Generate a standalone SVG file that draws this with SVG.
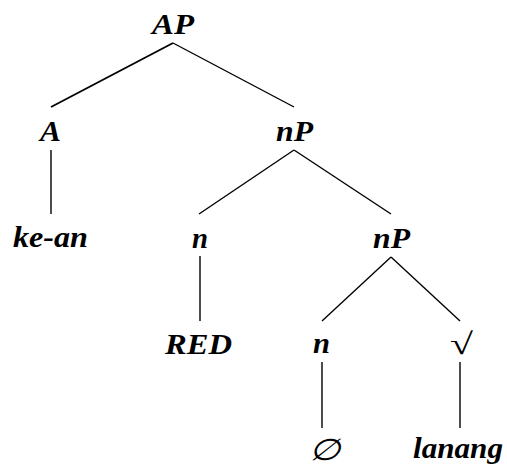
<svg xmlns="http://www.w3.org/2000/svg" width="507" height="467" viewBox="0 0 507 467">
<style>
.t{font-family:"Liberation Serif","Times New Roman",serif;font-weight:bold;font-style:italic;font-size:30px;fill:#000}
.s{font-family:"Liberation Serif","Times New Roman",serif;font-weight:normal;font-style:normal;font-size:30px;fill:#000}
.o{font-family:"Liberation Serif","Times New Roman",serif;font-weight:normal;font-style:italic;font-size:30px;fill:#000}
.e{stroke:#000;stroke-width:1.4;fill:none}
</style>
<rect width="507" height="467" fill="#fff"/>
<g id="edges">
<line class="e" x1="173" y1="43" x2="51" y2="107" style="stroke-width:1.8"/>
<line class="e" x1="173" y1="43" x2="294" y2="107"/>
<line class="e" x1="51" y1="150" x2="51" y2="214"/>
<line class="e" x1="294" y1="150" x2="199" y2="214"/>
<line class="e" x1="294" y1="150" x2="391" y2="214"/>
<line class="e" x1="200" y1="256" x2="200" y2="321"/>
<line class="e" x1="391" y1="257" x2="322" y2="321"/>
<line class="e" x1="391" y1="257" x2="460" y2="321"/>
<line class="e" x1="322" y1="362" x2="322" y2="428"/>
<line class="e" x1="460" y1="362" x2="460" y2="428"/>
</g>
<g id="AP"><text class="t" x="152" y="34" textLength="42" lengthAdjust="spacingAndGlyphs">AP</text></g>
<g id="A"><text class="t" x="40" y="141" textLength="21" lengthAdjust="spacingAndGlyphs">A</text></g>
<g id="nP1"><text class="t" x="276" y="141" textLength="37" lengthAdjust="spacingAndGlyphs">nP</text></g>
<g id="kean"><text class="t" x="13" y="247" textLength="75" lengthAdjust="spacingAndGlyphs">ke-an</text></g>
<g id="n1"><text class="t" x="192" y="248" textLength="16" lengthAdjust="spacingAndGlyphs">n</text></g>
<g id="nP2"><text class="t" x="373" y="248" textLength="37" lengthAdjust="spacingAndGlyphs">nP</text></g>
<g id="RED"><text class="t" x="165" y="354" textLength="67" lengthAdjust="spacingAndGlyphs">RED</text></g>
<g id="n2"><text class="t" x="313" y="353" textLength="17" lengthAdjust="spacingAndGlyphs">n</text></g>
<g id="root"><text class="s" x="450" y="354" textLength="23" lengthAdjust="spacingAndGlyphs">√</text></g>
<g id="null"><text class="o" x="309" y="460" textLength="31" lengthAdjust="spacingAndGlyphs">∅</text></g>
<g id="lanang"><text class="t" x="413" y="458" textLength="90" lengthAdjust="spacingAndGlyphs">lanang</text></g>
</svg>
